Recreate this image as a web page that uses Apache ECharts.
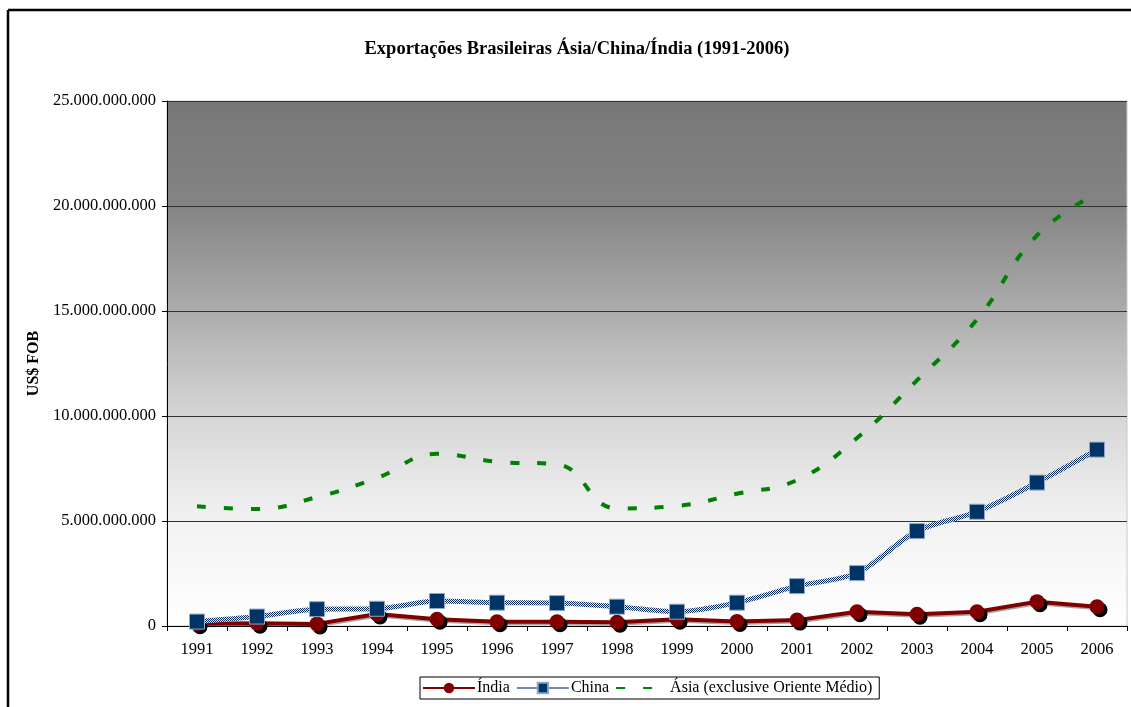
<!DOCTYPE html>
<html>
<head>
<meta charset="utf-8">
<script src="https://cdn.jsdelivr.net/npm/echarts@6/dist/echarts.min.js"></script>
<style>
  html, body { margin: 0; padding: 0; background: #fff; }
  #chart { width: 1131px; height: 707px; }
</style>
</head>
<body>
<div id="chart"></div>
<script>
// Exportações brasileiras (US$ FOB) por destino, 1991-2006
const years = ['1991','1992','1993','1994','1995','1996','1997','1998','1999','2000','2001','2002','2003','2004','2005','2006'];
const india = [110000000, 130000000, 100000000, 570000000, 320000000, 200000000, 200000000, 180000000, 320000000, 220000000, 280000000, 680000000, 560000000, 680000000, 1160000000, 920000000];
const china = [210000000, 450000000, 800000000, 820000000, 1190000000, 1110000000, 1090000000, 920000000, 680000000, 1110000000, 1900000000, 2520000000, 4520000000, 5440000000, 6830000000, 8400000000];
const asia = [5700000000, 5570000000, 6140000000, 7050000000, 8200000000, 7820000000, 7700000000, 5600000000, 5720000000, 6300000000, 6950000000, 8950000000, 11700000000, 14600000000, 18600000000, 20600000000];
const seriesNames = ['Índia', 'China', 'Ásia (exclusive Oriente Médio)'];

const FONT = '"Liberation Serif", "DejaVu Serif", serif';

// checkered navy/white stroke for the China line
function checker() {
  const c = document.createElement('canvas');
  c.width = 2; c.height = 2;
  const g = c.getContext('2d');
  g.fillStyle = '#e8eef6'; g.fillRect(0, 0, 2, 2);
  g.fillStyle = '#062a5e'; g.fillRect(0, 0, 1, 1); g.fillRect(1, 1, 1, 1);
  return c;
}

function thousands(v) {
  return String(v).replace(/\B(?=(\d{3})+(?!\d))/g, '.');
}

const chart = echarts.init(document.getElementById('chart'), null, { renderer: 'canvas' });
chart.setOption({
  animation: false,
  backgroundColor: '#ffffff',
  title: {
    text: 'Exportações Brasileiras Ásia/China/Índia (1991-2006)',
    left: 572, textAlign: 'center', top: 35,
    textStyle: { fontFamily: FONT, fontSize: 18.5, fontWeight: 'bold', color: '#000' }
  },
  graphic: [
    { type: 'line', shape: { x1: 8, y1: 10, x2: 1131, y2: 10 }, style: { stroke: '#000', lineWidth: 2.5 } },
    { type: 'line', shape: { x1: 8, y1: 10, x2: 8, y2: 707 }, style: { stroke: '#000', lineWidth: 2.5 } }
  ],
  grid: {
    left: 167, right: 4, top: 101, bottom: 81,
    show: true, borderColor: '#c8c8c8', borderWidth: 1,
    backgroundColor: {
      type: 'linear', x: 0, y: 0, x2: 0, y2: 1,
      colorStops: [
        { offset: 0, color: '#777777' },
        { offset: 0.2, color: '#848484' },
        { offset: 0.4, color: '#acacac' },
        { offset: 0.6, color: '#d6d6d6' },
        { offset: 0.8, color: '#f2f2f2' },
        { offset: 1, color: '#ffffff' }
      ]
    }
  },
  legend: {
    data: [
      { name: seriesNames[0] },
      { name: seriesNames[1] },
      { name: seriesNames[2], itemStyle: { opacity: 0 } }
    ],
    left: 420, top: 677,
    padding: [3, 7, 3, 2],
    borderColor: '#000', borderWidth: 1,
    backgroundColor: '#fff',
    itemWidth: 52, itemHeight: 13, itemGap: 6,
    textStyle: { fontFamily: FONT, fontSize: 16, color: '#000', padding: [0, 0, 0, -3] },
    itemStyle: { shadowBlur: 0, shadowOffsetX: 0, shadowOffsetY: 0, shadowColor: 'rgba(0,0,0,0)' },
    lineStyle: { shadowBlur: 0, shadowOffsetX: 0, shadowOffsetY: 0, shadowColor: 'rgba(0,0,0,0)' }
  },
  xAxis: {
    type: 'category',
    data: years,
    boundaryGap: true,
    axisLine: { lineStyle: { color: '#000', width: 1 } },
    axisTick: { show: true, length: 5, lineStyle: { color: '#000' } },
    axisLabel: { fontFamily: FONT, fontSize: 16.5, color: '#000', margin: 15 }
  },
  yAxis: {
    type: 'value',
    min: 0, max: 25000000000, interval: 5000000000,
    name: 'US$ FOB',
    nameLocation: 'middle',
    nameGap: 125,
    nameTextStyle: { fontFamily: FONT, fontSize: 16, fontWeight: 'bold', color: '#000' },
    axisLine: { show: true, lineStyle: { color: '#000', width: 1 } },
    axisTick: { show: true, length: 5, inside: false, lineStyle: { color: '#000' } },
    axisLabel: { fontFamily: FONT, fontSize: 16.5, color: '#000', margin: 11, formatter: thousands },
    splitLine: { show: true, lineStyle: { color: '#333333', width: 1 } }
  },
  series: [
    {
      name: seriesNames[0], type: 'line', data: india,
      symbol: 'circle', symbolSize: 15,
      lineStyle: { color: '#800000', width: 4, shadowColor: 'rgba(0,0,0,0.35)', shadowOffsetY: 1.5, shadowOffsetX: 1 },
      itemStyle: { color: '#800000', shadowColor: '#000', shadowOffsetX: 3, shadowOffsetY: 3, shadowBlur: 0 },
      z: 3
    },
    {
      name: seriesNames[1], type: 'line', data: china,
      smooth: 0.3,
      symbol: 'rect', symbolSize: 15,
      lineStyle: { color: { image: checker(), repeat: 'repeat' }, width: 5 },
      itemStyle: { color: '#003366', borderColor: '#8ea6c8', borderWidth: 1 },
      z: 4
    },
    {
      name: seriesNames[2], type: 'line', data: asia,
      smooth: 0.45,
      symbol: 'none',
      lineStyle: { color: '#008000', width: 4, type: [9, 18] },
      itemStyle: { color: '#008000' },
      z: 2
    }
  ]
});
</script>
</body>
</html>
